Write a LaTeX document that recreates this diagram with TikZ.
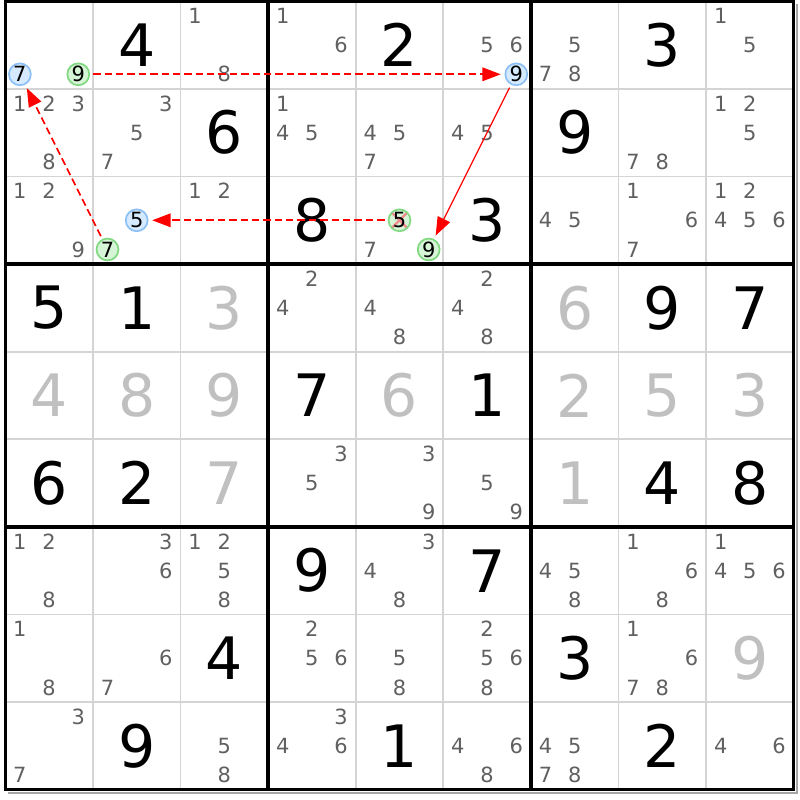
\documentclass[tikz,border=0pt]{standalone}
\usepackage{fontspec}
\setmainfont{DejaVu Sans}
\usetikzlibrary{arrows.meta}

\definecolor{candgrey}{RGB}{96,96,96}
\definecolor{solvedgrey}{RGB}{192,192,192}
\definecolor{cellline}{RGB}{212,212,212}
\definecolor{bluefill}{RGB}{214,234,255}
\definecolor{blueline}{RGB}{140,192,244}
\definecolor{greenfill}{RGB}{214,244,214}
\definecolor{greenline}{RGB}{128,216,128}
\definecolor{crossred}{RGB}{240,140,140}

\newcommand{\cellsize}{1cm}
\newcommand{\bigdigit}{\fontsize{19}{19}\selectfont}
\newcommand{\smalldigit}{\fontsize{6.8}{6.8}\selectfont}
\newcommand{\candxy}[3]{%
  \pgfmathsetmacro\candx{#2-1+(2*mod(#3-1,3)+1)/6}%
  \pgfmathsetmacro\candy{#1-1+(2*div(#3-1,3)+1)/6}}

\tikzset{
  given/.style={inner sep=0pt, font=\bigdigit},
  solved/.style={inner sep=0pt, font=\bigdigit, text=solvedgrey},
  cand/.style={inner sep=0pt, font=\smalldigit, text=candgrey},
  bluemark/.style={circle, inner sep=0pt, minimum size=0.25cm, fill=bluefill, draw=blueline, line width=0.55pt, font=\smalldigit},
  greenmark/.style={circle, inner sep=0pt, minimum size=0.25cm, fill=greenfill, draw=greenline, line width=0.55pt, font=\smalldigit},
  greencross/.style={greenmark, path picture={
    \draw[crossred, line width=0.75pt] (path picture bounding box.south west) -- (path picture bounding box.north east)
      (path picture bounding box.north west) -- (path picture bounding box.south east);}},
  weaklink/.style={red, line width=0.55pt, dash pattern=on 2.4pt off 1.3pt, shorten <=1pt, shorten >=1.2pt, -{Triangle[length=6pt,width=4.4pt]}},
  stronglink/.style={red, line width=0.4pt, shorten <=1pt, shorten >=1.2pt, -{Triangle[length=6pt,width=4.4pt]}}
}

\begin{document}
\begin{tikzpicture}[x=\cellsize, y=-\cellsize]
\useasboundingbox (-0.0605,-0.0148) rectangle (9.072,9.118);

\draw[line width=0.5pt, color=black!35] (9.035,0.03) -- (9.035,9.035) -- (0.03,9.035);
\foreach \i in {1,2,4,5,7,8} {
  \draw[line width=0.55pt, color=cellline] (\i,0) -- (\i,9);
  \draw[line width=0.55pt, color=cellline] (0,\i) -- (9,\i);
}
\foreach \i in {3,6} {
  \draw[line width=1.07pt] (\i,0) -- (\i,9);
  \draw[line width=1.07pt] (0,\i) -- (9,\i);
}
\draw[line width=1.07pt] (0,0) rectangle (9,9);

\foreach \r/\c/\v in {1/2/4, 1/5/2, 1/8/3, 2/3/6, 2/7/9, 3/4/8, 3/6/3,
    4/1/5, 4/2/1, 4/8/9, 4/9/7, 5/4/7, 5/6/1, 6/1/6, 6/2/2, 6/8/4, 6/9/8,
    7/4/9, 7/6/7, 8/3/4, 8/7/3, 9/2/9, 9/5/1, 9/8/2}
  \node[given] (G\r\c) at (\c-0.5,\r-0.5) {\v};

\foreach \r/\c/\v in {4/3/3, 4/7/6, 5/1/4, 5/2/8, 5/3/9, 5/5/6, 5/7/2,
    5/8/5, 5/9/3, 6/3/7, 6/7/1, 8/9/9}
  \node[solved] (S\r\c) at (\c-0.5,\r-0.5) {\v};

\foreach \r/\c/\list in {1/3/{1,8}, 1/4/{1,6}, 1/6/{5,6}, 1/7/{5,7,8}, 1/9/{1,5},
    2/1/{1,2,3,8}, 2/2/{3,5,7}, 2/4/{1,4,5}, 2/5/{4,5,7}, 2/6/{4,5}, 2/8/{7,8}, 2/9/{1,2,5},
    3/1/{1,2,9}, 3/3/{1,2}, 3/5/{7}, 3/7/{4,5}, 3/8/{1,6,7}, 3/9/{1,2,4,5,6},
    4/4/{2,4}, 4/5/{4,8}, 4/6/{2,4,8},
    6/4/{3,5}, 6/5/{3,9}, 6/6/{5,9},
    7/1/{1,2,8}, 7/2/{3,6}, 7/3/{1,2,5,8}, 7/5/{3,4,8}, 7/7/{4,5,8}, 7/8/{1,6,8}, 7/9/{1,4,5,6},
    8/1/{1,8}, 8/2/{6,7}, 8/4/{2,5,6}, 8/5/{5,8}, 8/6/{2,5,6,8}, 8/8/{1,6,7,8},
    9/1/{3,7}, 9/3/{5,8}, 9/4/{3,4,6}, 9/6/{4,6,8}, 9/7/{4,5,7,8}, 9/9/{4,6}}
  \foreach \d in \list {
    \candxy{\r}{\c}{\d}
    \node[cand] (V\r\c\d) at (\candx,\candy) {\d};
  }

\foreach \r/\c/\d/\hl in {1/1/7/bluemark, 1/6/9/bluemark, 3/2/5/bluemark,
    1/1/9/greenmark, 3/2/7/greenmark, 3/5/9/greenmark, 3/5/5/greencross} {
  \candxy{\r}{\c}{\d}
  \node[\hl] (M\r\c\d) at (\candx,\candy) {\d};
}

\draw[weaklink] (M119) -- (M169);
\draw[stronglink] (M169) -- (M359);
\draw[weaklink] (M355) -- (M325);
\draw[weaklink] (M327) -- (M117);

\end{tikzpicture}
\end{document}
